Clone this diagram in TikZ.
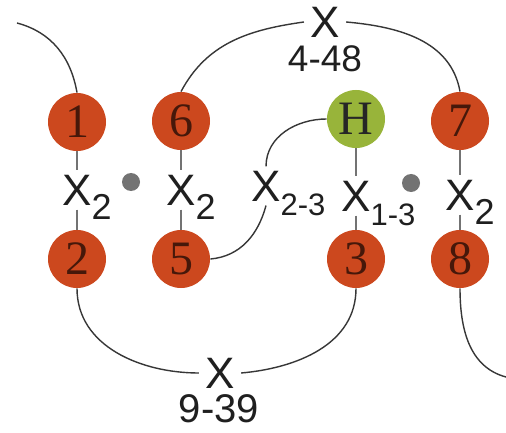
\documentclass[tikz,border=0pt]{standalone}
\usepackage{fontspec}
\setmainfont{Liberation Serif}
\setsansfont{Liberation Sans}
\usetikzlibrary{positioning}
\definecolor{siteOrange}{RGB}{204,72,30}
\definecolor{siteGreen}{RGB}{152,180,58}
\definecolor{siteInk}{RGB}{55,55,55}
\definecolor{siteStub}{RGB}{115,115,115}
\definecolor{siteNum}{RGB}{70,24,10}
% X with a lowered index that takes no room in the node
\newcommand{\xsub}[2]{X\rlap{\smash{\raisebox{-7pt}{\fontsize{#1}{#1}\selectfont #2}}}}

\begin{document}
\begin{tikzpicture}[x=0.5pt, y=-0.5pt,
    ball/.style={circle, fill=siteOrange, minimum size=29pt, inner sep=0pt,
      font=\fontsize{24}{24}\selectfont, text=siteNum},
    hball/.style={ball, fill=siteGreen, text=black!85},
    xlab/.style={font=\sffamily\fontsize{22}{22}\selectfont, text=black!88, inner xsep=3pt, inner ysep=2pt},
    numlab/.style={font=\sffamily\fontsize{19}{19}\selectfont, text=black!88, inner sep=0pt},
    stub/.style={draw=siteStub, line width=1.2pt},
    link/.style={draw=siteInk, line width=0.7pt},
    dot/.style={circle, fill=siteStub, minimum size=9pt, inner sep=0pt}
  ]
  \useasboundingbox[fill=white] (0,0) rectangle (506,432);

  % upper and lower rows
  \node[ball] (n1) at (77,122) {1};
  \node[ball] (n6) at (181,121) {6};
  \node[hball] (nH) at (356,119) {H};
  \node[ball] (n7) at (460,121) {7};
  \node[ball] (n2) at (77,259) {2};
  \node[ball] (n5) at (181,259) {5};
  \node[ball] (n3) at (356,259) {3};
  \node[ball] (n8) at (460,259) {8};

  % middle labels
  \node[xlab] (x12) at (77,190) {\xsub{18}{2}};
  \node[xlab] (x65) at (181,190) {\xsub{18}{2}};
  \node[xlab] (x23) at (266,186) {\xsub{15.5}{2-3}};
  \node[xlab] (xH3) at (356,196) {\xsub{15.5}{1-3}};
  \node[xlab] (x78) at (460,195) {\xsub{18}{2}};
  \node[dot] (d1) at (131,182) {};
  \node[dot] (d2) at (411,183) {};

  % loop labels
  \node[xlab] (xtop) at (325,22) {X};
  \node[numlab, font=\sffamily\fontsize{18.5}{18.5}\selectfont] (ltop) at (325,59) {4-48};
  \node[xlab, inner ysep=1pt] (xbot) at (220,373) {X};
  \node[numlab, font=\sffamily\fontsize{20}{20}\selectfont] (lbot) at (219,409) {9-39};

  \coordinate (cA) at (17,23);
  \coordinate (cB) at (506,377);

  % short bonds
  \draw[stub] (n1.south) -- (x12.north);
  \draw[stub] (x12.south) -- (n2.north);
  \draw[stub] (n6.south) -- (x65.north);
  \draw[stub] (x65.south) -- (n5.north);
  \draw[stub] (nH.south) -- (xH3.north);
  \draw[stub] (xH3.south) -- (n3.north);
  \draw[stub] (n7.south) -- (x78.north);
  \draw[stub] (x78.south) -- (n8.north);

  % loops
  \draw[link] (n1.north) to[out=100, in=-15] (cA);
  \draw[link] (n6.north) to[out=62, in=188] (xtop.west);
  \draw[link] (xtop.east) to[out=-5, in=100] (n7.north);
  \draw[link] (nH.west) to[out=180, in=90] (x23.north);
  \draw[link] (n5.east) to[out=5, in=-105] (x23.south);
  \draw[link] (n2.south) to[out=-90, in=180] (xbot.west);
  \draw[link] (xbot.east) to[out=5, in=-90] (n3.south);
  \draw[link] (n8.south) to[out=-90, in=165] (cB);
\end{tikzpicture}
\end{document}
